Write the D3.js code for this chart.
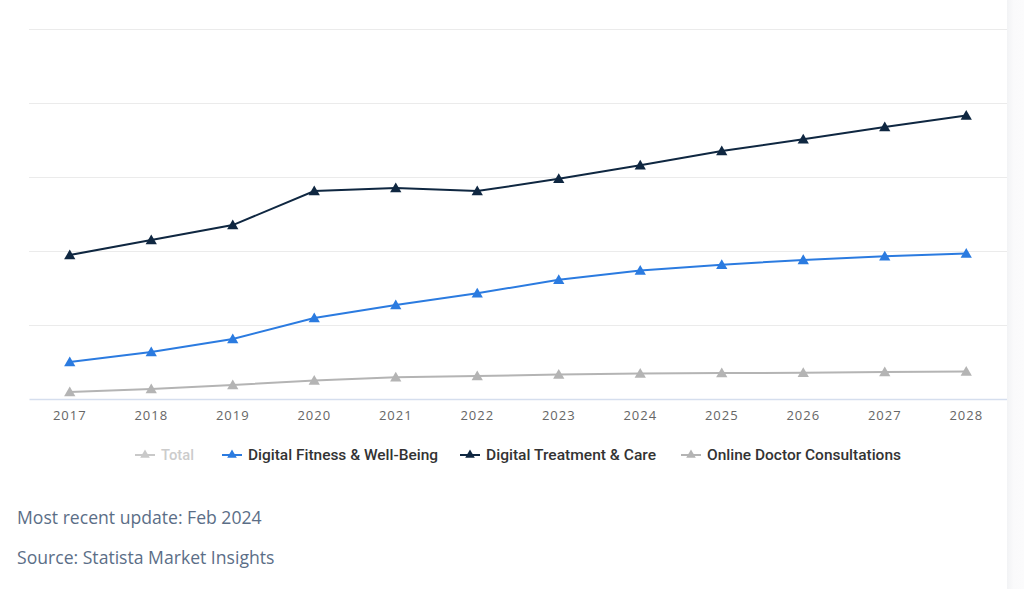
<!DOCTYPE html>
<html>
<head>
<meta charset="utf-8">
<script src="https://cdn.jsdelivr.net/npm/d3@7"></script>
<style>
  html, body { margin: 0; padding: 0; background: #fff; }
  body { width: 1024px; height: 589px; overflow: hidden; position: relative; }
  svg { display: block; }
  .shade { position: absolute; left: 1007px; top: 0; width: 17px; height: 589px;
           background: linear-gradient(to right, #f2f3f5, #fafafb 40%, #fbfbfc); }
  .note { position: absolute; left: 17px; font-family: "Open Sans", sans-serif; font-size: 17.6px; color: #5b6e87; }
</style>
</head>
<body>
<div class="shade"></div>
<svg id="chart" width="1007" height="480"></svg>
<div class="note" style="top:505px">Most recent update: Feb 2024</div>
<div class="note" style="top:545px">Source: Statista Market Insights</div>
<script>
// values (units unknown, gridlines every 10)
const years = ["2017", "2018", "2019", "2020", "2021", "2022", "2023", "2024", "2025", "2026", "2027", "2028"];
const fitness = [5.0, 6.35, 8.1, 10.95, 12.7, 14.3, 16.1, 17.35, 18.15, 18.8, 19.3, 19.65];
const treatment = [19.45, 21.5, 23.5, 28.1, 28.5, 28.1, 29.75, 31.6, 33.5, 35.1, 36.75, 38.3];
const doctor = [0.95, 1.35, 1.9, 2.5, 2.95, 3.1, 3.3, 3.45, 3.5, 3.55, 3.65, 3.7];
const yTicks = [0, 10, 20, 30, 40, 50];

const series = [
  { name: "Total", color: "#c9c9c9", values: null, text: "#cccccc" },
  { name: "Digital Fitness & Well-Being", color: "#2b7be0", values: fitness, text: "#333" },
  { name: "Digital Treatment & Care", color: "#0f2741", values: treatment, text: "#333" },
  { name: "Online Doctor Consultations", color: "#b4b4b4", values: doctor, text: "#333" }
];

const plotLeft = 29, plotRight = 1007, plotTop = 29, plotBottom = 399;
const svg = d3.select("#chart");

const x = d3.scaleBand().domain(years).range([plotLeft, plotRight]);
const y = d3.scaleLinear().domain([0, 50]).range([plotBottom, plotTop]);

// gridlines
svg.append("g")
    .selectAll("line")
    .data(yTicks.filter(d => d > 0))
    .join("line")
    .attr("x1", plotLeft).attr("x2", plotRight)
    .attr("y1", d => y(d) + 0.5).attr("y2", d => y(d) + 0.5)
    .attr("stroke", "#ebebeb")
    .attr("stroke-width", 1);

// x axis
const gX = svg.append("g")
    .attr("transform", `translate(0, ${plotBottom})`)
    .call(d3.axisBottom(x).tickSize(0).tickPadding(12));
gX.select(".domain").attr("stroke", "#d5deee").attr("stroke-width", 1.5);
gX.selectAll("text")
    .style("font-family", "'Open Sans', sans-serif")
    .style("font-size", "13px")
    .style("letter-spacing", "1px")
    .attr("fill", "#666");

const line = d3.line()
    .x((d, i) => x(years[i]) + x.bandwidth() / 2)
    .y(d => y(d));

const tri = d3.symbol().type(d3.symbolTriangle).size(55);

// draw grey first, then blue, then navy on top
[series[3], series[1], series[2]].forEach(s => {
    const g = svg.append("g");
    g.append("path")
        .datum(s.values)
        .attr("d", line)
        .attr("fill", "none")
        .attr("stroke", s.color)
        .attr("stroke-width", 2);
    g.selectAll("path.pt")
        .data(s.values)
        .join("path")
        .attr("class", "pt")
        .attr("d", tri)
        .attr("transform", (d, i) => `translate(${x(years[i]) + x.bandwidth() / 2}, ${y(d) + 1})`)
        .attr("fill", s.color);
});

// legend
const legend = svg.append("g").attr("transform", "translate(0, 455)");
const items = legend.selectAll("g")
    .data(series)
    .join("g");
items.append("line")
    .attr("x1", -10).attr("x2", 10)
    .attr("stroke", d => d.color)
    .attr("stroke-width", 2);
items.append("path")
    .attr("d", d3.symbol().type(d3.symbolTriangle).size(40))
    .attr("fill", d => d.color);

// widths of the legend labels as seen in the picture
const labelWidth = [33, 190, 170, 194];
items.append("text")
    .attr("x", 16)
    .attr("dy", "0.35em")
    .attr("textLength", (d, i) => labelWidth[i])
    .attr("lengthAdjust", "spacingAndGlyphs")
    .style("font-family", "Roboto, sans-serif")
    .style("font-size", "15px")
    .style("font-weight", "500")
    .attr("fill", d => d.text)
    .text(d => d.name);

// place items at their spots
const itemX = [145, 232, 470, 691];
items.attr("transform", (d, i) => `translate(${itemX[i]}, 0)`);
</script>
</body>
</html>
